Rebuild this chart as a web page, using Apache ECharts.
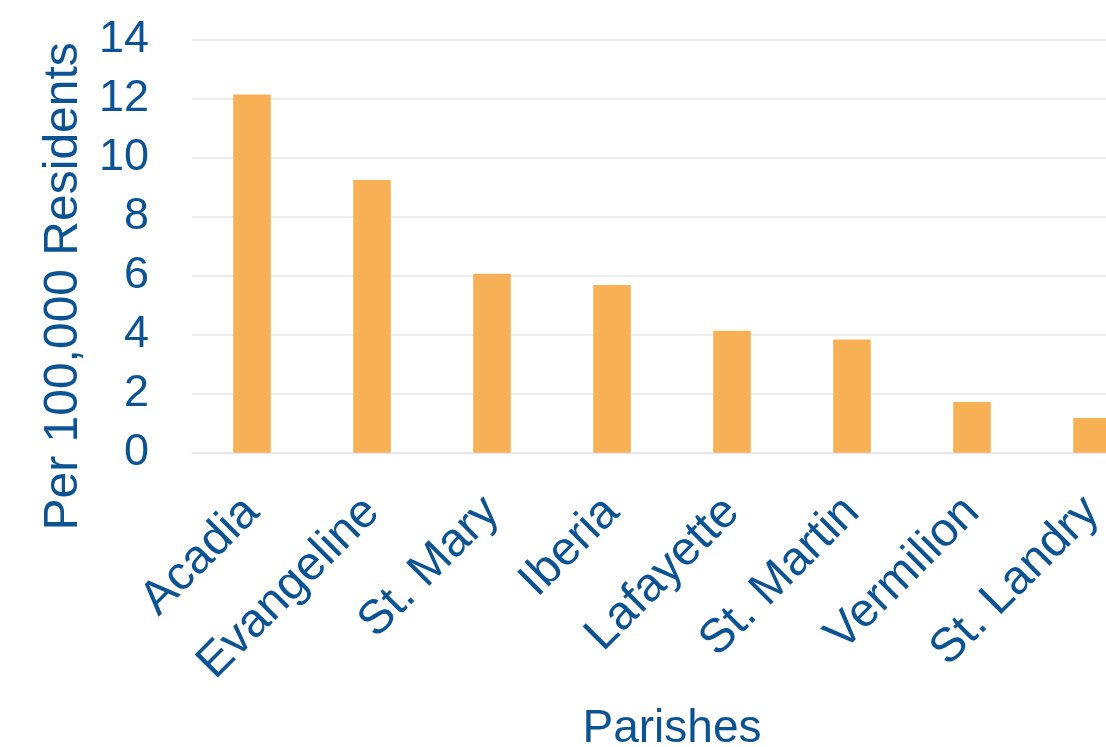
<!DOCTYPE html>
<html>
<head>
<meta charset="utf-8">
<script src="https://cdn.jsdelivr.net/npm/echarts@6/dist/echarts.min.js"></script>
<style>html,body{margin:0;padding:0;background:#fff;overflow:hidden}#c{width:1106px;height:747px}</style>
</head>
<body>
<div id="c"></div>
<script>
const categories = ["Acadia", "Evangeline", "St. Mary", "Iberia", "Lafayette", "St. Martin", "Vermilion", "St. Landry"];
const values = [12.15, 9.25, 6.07, 5.69, 4.14, 3.84, 1.72, 1.18];
const yTicks = { min: 0, max: 14, interval: 2 };
const xTitle = "Parishes";
const yTitle = "Per 100,000 Residents";

const textColor = "#0b5392";
const font = "Liberation Sans, Arial, sans-serif";
const chart = echarts.init(document.getElementById('c'), null, { renderer: 'canvas' });
chart.setOption({
  animation: false,
  backgroundColor: '#ffffff',
  grid: { left: 192, top: 40, width: 960, height: 412.7, containLabel: false, outerBoundsMode: 'none' },
  xAxis: {
    type: 'category',
    data: categories,
    name: xTitle,
    nameLocation: 'middle',
    nameGap: 254,
    nameTextStyle: { color: textColor, fontSize: 46, fontFamily: font },
    axisLine: { show: true, lineStyle: { color: '#e8e8e8', width: 2 } },
    axisTick: { show: false },
    axisLabel: { rotate: 45, interval: 0, margin: 52, color: textColor, fontSize: 47.5, fontFamily: font }
  },
  yAxis: {
    type: 'value',
    min: yTicks.min, max: yTicks.max, interval: yTicks.interval,
    name: yTitle,
    nameLocation: 'middle',
    nameGap: 104,
    nameTextStyle: { color: textColor, fontSize: 48, fontFamily: font, padding: [0, 80, 0, 0] },
    axisLine: { show: false },
    axisTick: { show: false },
    axisLabel: { margin: 43, color: textColor, fontSize: 45, fontFamily: font },
    splitLine: { show: true, lineStyle: { color: '#ececec', width: 2 } }
  },
  series: [{
    type: 'bar',
    data: values,
    barWidth: '31.3%',
    itemStyle: { color: '#f7b055' }
  }]
});
</script>
</body>
</html>
